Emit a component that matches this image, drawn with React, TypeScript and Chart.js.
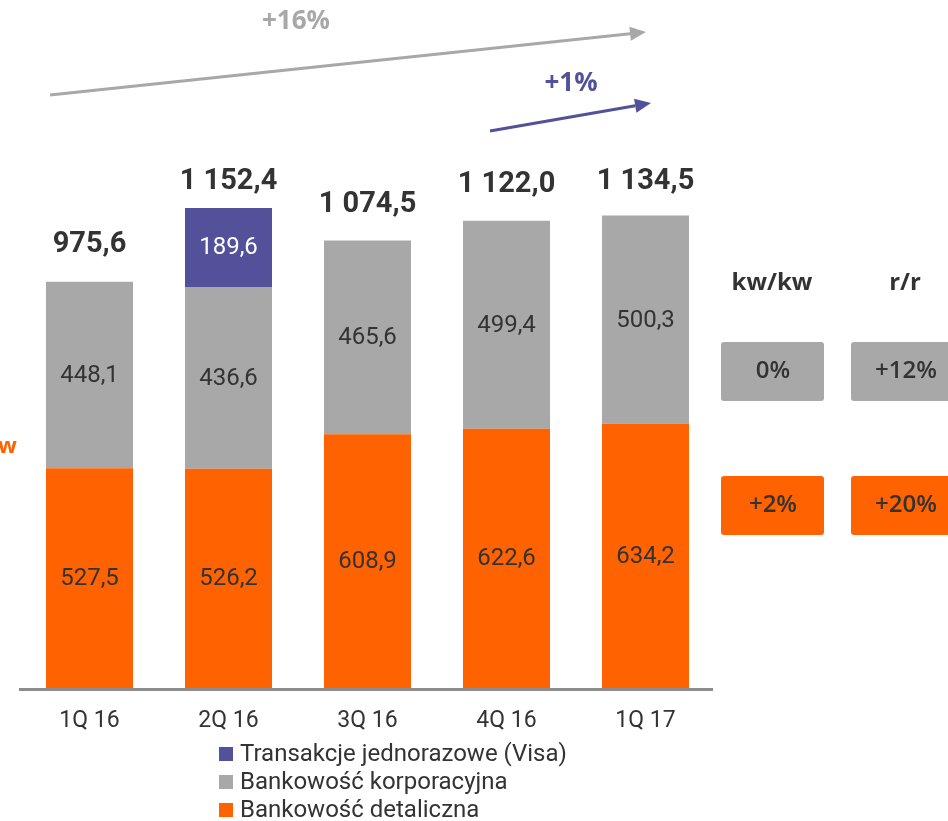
import React, { useEffect, useRef } from "react";
import { Chart, registerables } from "chart.js";

Chart.register(...registerables);

// ---- Data ----
const categories = ["1Q 16", "2Q 16", "3Q 16", "4Q 16", "1Q 17"];
const retailBanking = [527.5, 526.2, 608.9, 622.6, 634.2];
const corporateBanking = [448.1, 436.6, 465.6, 499.4, 500.3];
const oneOffVisa = [null, 189.6, null, null, null];
const seriesVisa = "Transakcje jednorazowe (Visa)";
const seriesCorporate = "Bankowość korporacyjna";
const seriesRetail = "Bankowość detaliczna";
const qoqHeader = "kw/kw";
const yoyHeader = "r/r";
const corporateChanges = ["0%", "+12%"];
const retailChanges = ["+2%", "+20%"];
const growthAll = "+16%";
const growthRecent = "+1%";
const cutLabel = "w";

// ---- Styles ----
const ORANGE = "#FF6200";
const GRAY = "#A8A8A8";
const PURPLE = "#525199";
const TEXT = "#333333";
const AXIS = "#8C8C8C";
const FONT = "'Open Sans', 'Noto Sans', sans-serif";
const FONT2 = "Roboto, 'Open Sans', sans-serif";

function fmt(v: number): string {
  const s = v.toFixed(1);
  const [intPart, dec] = s.split(".");
  const withSpaces = intPart.replace(/\B(?=(\d{3})+(?!\d))/g, " ");
  return withSpaces + "," + dec;
}

function roundRect(ctx: CanvasRenderingContext2D, x: number, y: number, w: number, h: number, r: number) {
  ctx.beginPath();
  ctx.moveTo(x + r, y);
  ctx.lineTo(x + w - r, y);
  ctx.quadraticCurveTo(x + w, y, x + w, y + r);
  ctx.lineTo(x + w, y + h - r);
  ctx.quadraticCurveTo(x + w, y + h, x + w - r, y + h);
  ctx.lineTo(x + r, y + h);
  ctx.quadraticCurveTo(x, y + h, x, y + h - r);
  ctx.lineTo(x, y + r);
  ctx.quadraticCurveTo(x, y, x + r, y);
  ctx.closePath();
}

function arrow(ctx: CanvasRenderingContext2D, x1: number, y1: number, x2: number, y2: number, color: string) {
  const ang = Math.atan2(y2 - y1, x2 - x1);
  const headLen = 16;
  const headW = 7;
  const bx = x2 - headLen * Math.cos(ang);
  const by = y2 - headLen * Math.sin(ang);
  ctx.save();
  ctx.strokeStyle = color;
  ctx.fillStyle = color;
  ctx.lineWidth = 3;
  ctx.beginPath();
  ctx.moveTo(x1, y1);
  ctx.lineTo(bx, by);
  ctx.stroke();
  ctx.beginPath();
  ctx.moveTo(x2, y2);
  ctx.lineTo(bx + headW * Math.sin(ang), by - headW * Math.cos(ang));
  ctx.lineTo(bx - headW * Math.sin(ang), by + headW * Math.cos(ang));
  ctx.closePath();
  ctx.fill();
  ctx.restore();
}

const annotationsPlugin = {
  id: "annotations",
  afterDatasetsDraw(chart: any) {
    const ctx: CanvasRenderingContext2D = chart.ctx;
    const area = chart.chartArea;
    const xScale = chart.scales.x;
    const yScale = chart.scales.y;
    ctx.save();

    // segment labels
    chart.data.datasets.forEach((ds: any, di: number) => {
      const meta = chart.getDatasetMeta(di);
      meta.data.forEach((el: any, i: number) => {
        const v = ds.data[i];
        if (v == null) return;
        ctx.font = `400 24px ${FONT2}`;
        ctx.fillStyle = ds.backgroundColor === PURPLE ? "#FFFFFF" : TEXT;
        ctx.textAlign = "center";
        ctx.textBaseline = "middle";
        ctx.fillText(fmt(v), el.x, (el.y + el.base) / 2 + 1);
      });
    });

    // totals
    const gaps = [38, 27, 37, 37, 35];
    categories.forEach((_, i) => {
      const total = (retailBanking[i] || 0) + (corporateBanking[i] || 0) + (oneOffVisa[i] || 0);
      const x = xScale.getPixelForValue(i);
      const y = yScale.getPixelForValue(total) - gaps[i];
      ctx.font = `700 29px ${FONT2}`;
      ctx.fillStyle = TEXT;
      ctx.textAlign = "center";
      ctx.textBaseline = "middle";
      ctx.fillText(fmt(total), x, y + 1);
    });

    // axis line
    ctx.strokeStyle = AXIS;
    ctx.lineWidth = 3;
    ctx.beginPath();
    ctx.moveTo(area.left - 1, area.bottom + 1.5);
    ctx.lineTo(area.right - 2, area.bottom + 1.5);
    ctx.stroke();

    // category labels
    categories.forEach((c, i) => {
      ctx.font = `400 23px ${FONT2}`;
      ctx.fillStyle = TEXT;
      ctx.textAlign = "center";
      ctx.textBaseline = "middle";
      ctx.fillText(c, xScale.getPixelForValue(i), 721);
    });

    // legend
    const legendItems = [
      [seriesVisa, PURPLE],
      [seriesCorporate, GRAY],
      [seriesRetail, ORANGE],
    ];
    legendItems.forEach(([label, color], k) => {
      const cy = 754 + k * 28;
      ctx.fillStyle = color;
      ctx.fillRect(219, cy - 7, 14, 14);
      ctx.font = `400 24px ${FONT2}`;
      ctx.fillStyle = TEXT;
      ctx.textAlign = "left";
      ctx.textBaseline = "middle";
      ctx.fillText(label, 240, cy + 1);
    });

    // growth arrows
    arrow(ctx, 50, 95, 646, 32, GRAY);
    arrow(ctx, 490, 131, 651, 103, PURPLE);
    ctx.font = `700 26px ${FONT}`;
    ctx.textAlign = "center";
    ctx.textBaseline = "middle";
    ctx.fillStyle = GRAY;
    ctx.fillText(growthAll, 296, 22);
    ctx.fillStyle = PURPLE;
    ctx.fillText(growthRecent, 571, 84);

    // right panel
    ctx.fillStyle = TEXT;
    ctx.font = `700 24px ${FONT}`;
    ctx.fillText(qoqHeader, 772, 283);
    ctx.fillText(yoyHeader, 905, 283);
    const cols = [721, 851];
    cols.forEach((bx, k) => {
      ctx.fillStyle = GRAY;
      roundRect(ctx, bx, 342, 103, 59, 3);
      ctx.fill();
      ctx.fillStyle = ORANGE;
      roundRect(ctx, bx, 476, 103, 59, 3);
      ctx.fill();
      ctx.fillStyle = TEXT;
      ctx.font = `600 24px ${FONT}`;
      ctx.textAlign = "center";
      ctx.fillText(corporateChanges[k], bx + 52 + (k === 1 ? 3 : 0), 371);
      ctx.fillText(retailChanges[k], bx + 52 + (k === 1 ? 3 : 0), 505);
    });

    // cut-off label at left edge
    ctx.fillStyle = ORANGE;
    ctx.font = `700 22px ${FONT}`;
    ctx.textAlign = "left";
    ctx.fillText(cutLabel, -2, 447);

    ctx.restore();
  },
};

export default function App() {
  const canvasRef = useRef<HTMLCanvasElement | null>(null);

  useEffect(() => {
    if (!canvasRef.current) return;
    const chart = new Chart(canvasRef.current, {
      type: "bar",
      data: {
        labels: categories,
        datasets: [
          { label: seriesRetail, data: retailBanking, backgroundColor: ORANGE },
          { label: seriesCorporate, data: corporateBanking, backgroundColor: GRAY },
          { label: seriesVisa, data: oneOffVisa as any, backgroundColor: PURPLE },
        ],
      },
      options: {
        responsive: false,
        devicePixelRatio: 1,
        animation: false,
        events: [],
        layout: { padding: { left: 20, right: 233, top: 146.5, bottom: 133 } },
        datasets: { bar: { barPercentage: 0.626, categoryPercentage: 1 } },
        plugins: { legend: { display: false }, tooltip: { enabled: false } },
        scales: {
          x: { stacked: true, display: false },
          y: { stacked: true, display: false, min: 0, max: 1300 },
        },
      },
      plugins: [annotationsPlugin],
    });
    return () => chart.destroy();
  }, []);

  return (
    <div style={{ position: "absolute", left: 0, top: 0, width: 948, height: 821, background: "#fff" }}>
      <canvas ref={canvasRef} width={948} height={821} style={{ display: "block" }} />
    </div>
  );
}
